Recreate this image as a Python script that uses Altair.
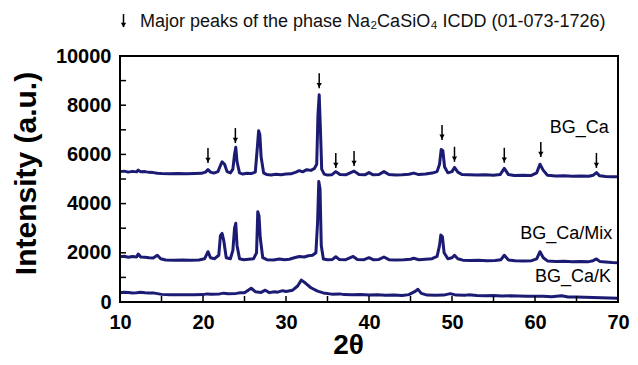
import altair as alt
import pandas as pd

# ---- data (2theta, intensity a.u.) ----
BG_CA = [
    (10, 5300), (10.5, 5320), (11, 5280), (11.5, 5310), (12, 5290), (12.2, 5360), (12.5, 5290),
    (13, 5300), (13.5, 5270), (14, 5260), (14.5, 5230), (15, 5220), (16, 5210), (17, 5220),
    (18, 5210), (19, 5220), (19.8, 5230), (20.3, 5280), (20.6, 5380), (20.9, 5280), (21.3, 5240),
    (21.8, 5300), (22.1, 5550), (22.3, 5700), (22.6, 5600), (22.9, 5300), (23.3, 5250), (23.6, 5400),
    (23.8, 6000), (23.95, 6290), (24.1, 5700), (24.4, 5250), (24.8, 5200), (25.3, 5230), (25.8, 5220),
    (26.3, 5280), (26.55, 6300), (26.7, 6960), (26.85, 6800), (27.0, 5900), (27.3, 5250), (27.7, 5180),
    (28.2, 5160), (28.8, 5190), (29.4, 5170), (30.0, 5200), (30.6, 5210), (31.2, 5280), (31.6, 5340),
    (32.0, 5290), (32.5, 5380), (33.0, 5350), (33.4, 5420), (33.7, 5600), (33.85, 7600), (34.0, 8420),
    (34.15, 7000), (34.3, 5400), (34.6, 5200), (35.0, 5160), (35.5, 5170), (36.0, 5300), (36.5, 5180),
    (37.2, 5170), (38.2, 5320), (38.8, 5180), (39.5, 5170), (40.0, 5260), (40.5, 5170), (41.2, 5180),
    (41.8, 5300), (42.4, 5180), (43.2, 5160), (44.0, 5170), (44.8, 5190), (45.4, 5240), (46.0, 5180),
    (46.8, 5200), (47.6, 5240), (48.2, 5300), (48.5, 5600), (48.7, 6200), (48.9, 6150), (49.1, 5500),
    (49.5, 5250), (50.0, 5300), (50.3, 5470), (50.7, 5280), (51.2, 5180), (52.0, 5170), (53.0, 5160),
    (54.0, 5170), (55.0, 5150), (55.8, 5180), (56.3, 5430), (56.8, 5180), (57.5, 5140), (58.5, 5150),
    (59.5, 5140), (60.2, 5250), (60.6, 5600), (61.0, 5350), (61.5, 5150), (62.5, 5120), (63.5, 5130),
    (64.5, 5110), (65.5, 5120), (66.5, 5110), (67.0, 5150), (67.4, 5260), (67.8, 5130), (68.5, 5100),
    (69.3, 5090), (70, 5090),
]

BG_CA_MIX = [
    (10, 1840), (10.5, 1860), (11, 1820), (11.5, 1850), (12, 1830), (12.2, 1950), (12.5, 1830),
    (13, 1820), (13.5, 1800), (14, 1790), (14.5, 1900), (14.9, 1760), (15.5, 1710), (16.5, 1700),
    (17.5, 1710), (18.5, 1700), (19.5, 1710), (20.2, 1760), (20.6, 2045), (20.9, 1800), (21.4, 1760),
    (21.9, 1900), (22.1, 2700), (22.3, 2790), (22.5, 2500), (22.8, 1800), (23.3, 1760), (23.6, 2100),
    (23.8, 3000), (23.95, 3200), (24.1, 2300), (24.4, 1760), (24.9, 1720), (25.5, 1740), (26.1, 1760),
    (26.45, 2000), (26.6, 3670), (26.75, 3500), (26.9, 2600), (27.2, 1800), (27.7, 1720), (28.5, 1710),
    (29.2, 1750), (29.8, 1720), (30.4, 1740), (31.0, 1800), (31.6, 1850), (32.2, 1830), (32.7, 1880),
    (33.2, 1900), (33.6, 2000), (33.8, 3200), (33.95, 4900), (34.1, 4600), (34.25, 2300), (34.5, 1750),
    (35.0, 1720), (35.6, 1730), (36.0, 1840), (36.4, 1730), (37.2, 1720), (38.1, 1850), (38.6, 1730),
    (39.4, 1720), (40.0, 1800), (40.5, 1720), (41.2, 1730), (41.8, 1830), (42.4, 1720), (43.2, 1710),
    (44.2, 1720), (45.0, 1740), (45.4, 1780), (46.0, 1720), (46.8, 1740), (47.6, 1760), (48.2, 1850),
    (48.5, 2300), (48.65, 2720), (48.85, 2650), (49.05, 2000), (49.5, 1760), (50.0, 1800), (50.3, 1900),
    (50.7, 1760), (51.3, 1700), (52.2, 1690), (53.2, 1700), (54.2, 1680), (55.2, 1690), (55.9, 1720),
    (56.3, 1900), (56.8, 1710), (57.6, 1680), (58.6, 1670), (59.6, 1680), (60.2, 1750), (60.6, 2045),
    (61.0, 1800), (61.5, 1670), (62.5, 1650), (63.5, 1660), (64.5, 1640), (65.5, 1650), (66.5, 1640),
    (67.0, 1680), (67.4, 1750), (67.8, 1650), (68.5, 1630), (69.3, 1610), (70, 1600),
]

BG_CA_K = [
    (10, 380), (10.5, 400), (11, 390), (11.5, 370), (12, 380), (12.5, 400), (13, 380), (13.5, 370),
    (14, 370), (14.5, 340), (15, 310), (16, 290), (17, 290), (18, 290), (19, 295), (20, 300),
    (20.5, 330), (21, 320), (22, 330), (22.5, 360), (23, 340), (24, 350), (24.5, 380), (25, 380),
    (25.8, 560), (26.3, 420), (27, 390), (27.5, 480), (28, 380), (28.6, 420), (29, 400), (29.6, 460),
    (30, 430), (30.8, 480), (31.4, 650), (31.85, 890), (32.3, 780), (33, 580), (33.8, 440), (34.5, 370),
    (35.5, 320), (36.5, 330), (37, 300), (38, 290), (39, 300), (40, 280), (41, 290), (42, 270),
    (43, 280), (44, 265), (44.8, 300), (45.5, 420), (45.9, 515), (46.3, 350), (47, 280), (48, 270),
    (49, 280), (49.8, 340), (50.5, 280), (51.5, 270), (52, 290), (53, 260), (54, 255), (55, 260),
    (56, 245), (57, 250), (58, 240), (59, 235), (60, 230), (61, 235), (62, 215), (63.2, 250),
    (64, 205), (65, 200), (66, 190), (67, 185), (68, 175), (69, 165), (70, 150),
]

SERIES = [("BG_Ca", BG_CA), ("BG_Ca/Mix", BG_CA_MIX), ("BG_Ca/K", BG_CA_K)]

# arrows: position of Na2CaSiO4 peaks and arrow-tip intensity
ARROW_2THETA = [20.6, 23.9, 34.0, 36.0, 38.2, 48.8, 50.3, 56.3, 60.7, 67.4]
ARROW_TIP = [5650, 6460, 8690, 5450, 5530, 6590, 5700, 5660, 5890, 5450]

# series labels
LABEL_TEXT = ["BG_Ca", "BG_Ca/Mix", "BG_Ca/K"]
LABEL_X = [68.9, 69.3, 69.15]
LABEL_Y = [7070, 2750, 1020]

X_DOMAIN = [10, 70]
Y_DOMAIN = [0, 10000]
X_LABELS = [10, 20, 30, 40, 50, 60, 70]
Y_LABELS = [0, 2000, 4000, 6000, 8000, 10000]
X_MINOR_TICKS = [15, 20, 25, 30, 35, 40, 45, 50, 55, 60, 65]
Y_MINOR_TICKS = [1000, 2000, 3000, 4000, 5000, 6000, 7000, 8000, 9000]

HEADER = "Major peaks of the phase Na\u2082CaSiO\u2084 ICDD (01-073-1726)"

# ---- build tables ----
rows = []
for name, pts in SERIES:
    for i, (x, y) in enumerate(pts):
        rows.append({"series": name, "two_theta": x, "intensity": y, "i": i})
df = pd.DataFrame(rows)
arrows = pd.DataFrame({"two_theta": ARROW_2THETA, "tip": ARROW_TIP})
labels = pd.DataFrame({"text": LABEL_TEXT, "lx": LABEL_X, "ly": LABEL_Y})
xt = pd.DataFrame({"v": X_MINOR_TICKS, "y0": [Y_DOMAIN[0]] * len(X_MINOR_TICKS)})
yt = pd.DataFrame({"v": Y_MINOR_TICKS, "x0": [X_DOMAIN[0]] * len(Y_MINOR_TICKS)})
# the four frame edges, in data coordinates of the plot corners
edges = pd.DataFrame({
    "xa": [X_DOMAIN[0], X_DOMAIN[0], X_DOMAIN[0], X_DOMAIN[1]],
    "xb": [X_DOMAIN[1], X_DOMAIN[1], X_DOMAIN[0], X_DOMAIN[1]],
    "ya": [Y_DOMAIN[0], Y_DOMAIN[1], Y_DOMAIN[0], Y_DOMAIN[0]],
    "yb": [Y_DOMAIN[0], Y_DOMAIN[1], Y_DOMAIN[1], Y_DOMAIN[1]],
})
header_df = pd.DataFrame({"t": [HEADER]})

NAVY = "#1b1b74"
INK = "#000000"
FONT = "Liberation Sans"
W, H = 498, 246

xscale = alt.Scale(domain=X_DOMAIN, nice=False, zero=False)
yscale = alt.Scale(domain=Y_DOMAIN, nice=False, zero=False)

x_axis = alt.Axis(values=X_LABELS, ticks=False, grid=False, domain=False,
                  labelFont=FONT, labelFontSize=20, labelFontWeight="bold", labelColor="#000",
                  labelPadding=10, labelFlush=False,
                  title="2θ", titleFont=FONT, titleFontSize=28,
                  titleFontWeight="bold", titleColor="#000", titleX=228, titleY=51,
                  titleAlign="center", titleBaseline="alphabetic")
y_axis = alt.Axis(values=Y_LABELS, format="d", ticks=False, grid=False, domain=False,
                  labelFont=FONT, labelFontSize=20, labelFontWeight="bold", labelColor="#000",
                  labelPadding=9, labelFlush=False,
                  title="Intensity (a.u.)", titleFont=FONT, titleFontSize=30,
                  titleFontWeight="bold", titleColor="#000", titleX=-85, titleY=117,
                  titleAngle=270, titleAlign="center", titleBaseline="alphabetic")

lines = alt.Chart(df).mark_line(color=NAVY, strokeWidth=3, strokeJoin="round").encode(
    x=alt.X("two_theta:Q", scale=xscale, axis=x_axis),
    y=alt.Y("intensity:Q", scale=yscale, axis=y_axis),
    detail="series:N",
    order="i:Q",
)

frame = alt.Chart(edges).mark_rule(color=INK, strokeWidth=2, strokeCap="square").encode(
    x=alt.X("xa:Q", scale=xscale), x2="xb:Q",
    y=alt.Y("ya:Q", scale=yscale), y2="yb:Q",
)
xticks = alt.Chart(xt).mark_rule(color=INK, strokeWidth=1.5, y2Offset=-6).encode(
    x=alt.X("v:Q", scale=xscale), y=alt.Y("y0:Q", scale=yscale), y2="y0:Q")
yticks = alt.Chart(yt).mark_rule(color=INK, strokeWidth=1.5, x2Offset=6).encode(
    y=alt.Y("v:Q", scale=yscale), x=alt.X("x0:Q", scale=xscale), x2="x0:Q")

arrow_shaft = alt.Chart(arrows).mark_rule(color="#000", strokeWidth=1.5, y2Offset=-15).encode(
    x=alt.X("two_theta:Q", scale=xscale),
    y=alt.Y("tip:Q", scale=yscale),
    y2="tip:Q",
)
arrow_head = alt.Chart(arrows).mark_point(shape="triangle-down", filled=True, color="#000",
                                          size=28, opacity=1, yOffset=-3).encode(
    x=alt.X("two_theta:Q", scale=xscale),
    y=alt.Y("tip:Q", scale=yscale),
)

label_text = alt.Chart(labels).mark_text(font=FONT, fontSize=18, align="right", baseline="middle",
                                         color="#000").encode(
    x=alt.X("lx:Q", scale=xscale),
    y=alt.Y("ly:Q", scale=yscale),
    text="text:N",
)

header_text = alt.Chart(header_df).mark_text(font=FONT, fontSize=18, align="left",
                                             baseline="alphabetic", color="#111").encode(
    text="t:N", x=alt.value(20), y=alt.value(-29))
header_shaft = alt.Chart(header_df).mark_rule(color="#000", strokeWidth=1.5).encode(
    x=alt.value(3.5), y=alt.value(-42), y2=alt.value(-29))
header_head = alt.Chart(header_df).mark_point(shape="triangle-down", filled=True, color="#000",
                                              size=28, opacity=1).encode(
    x=alt.value(3.5), y=alt.value(-31))

chart = alt.layer(
    lines, frame, xticks, yticks,
    arrow_shaft, arrow_head, label_text,
    header_text, header_shaft, header_head,
).properties(
    width=W, height=H,
    autosize=alt.AutoSizeParams(type="none"),
    padding={"left": 112, "top": 48, "right": 12, "bottom": 55},
    background="white",
).configure_view(stroke="#000", strokeWidth=2)

chart.save("out.html", embed_options={"renderer": "svg", "actions": False})
